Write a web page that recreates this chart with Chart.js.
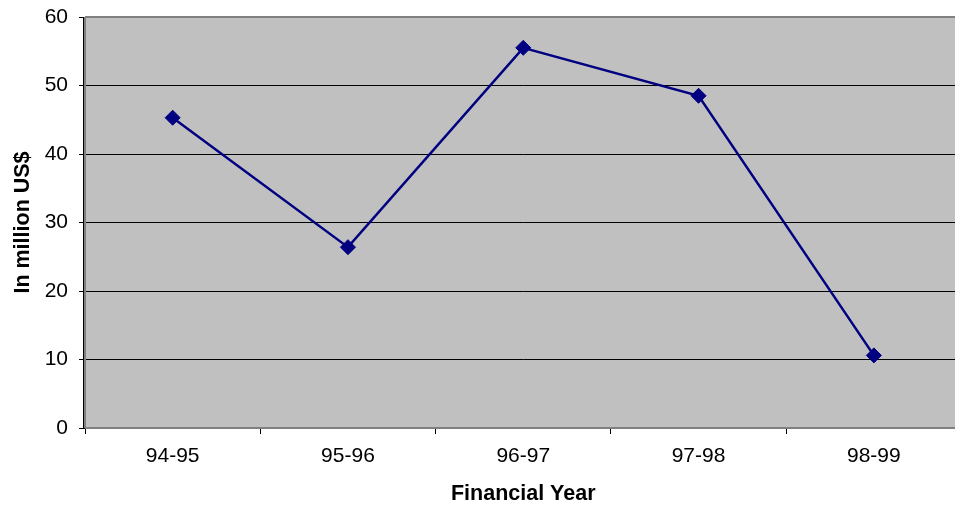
<!DOCTYPE html>
<html lang="en">
<head>
    <meta charset="UTF-8">
    <title>Financial Year Chart</title>
    <script src="https://cdn.jsdelivr.net/npm/chart.js"></script>
    <style>
        html, body { margin: 0; padding: 0; overflow: hidden; background: #fff; }
    </style>
</head>
<body>
    <canvas id="chart" width="970" height="505"></canvas>

    <script>
        // Chart data
        const years = ['94-95', '95-96', '96-97', '97-98', '98-99'];
        const values = [45.3, 26.4, 55.5, 48.5, 10.6];
        const yTicks = [0, 10, 20, 30, 40, 50, 60];

        // Gray plot area and its border, like the old spreadsheet look
        const plotArea = {
            id: 'plotArea',
            beforeDraw(chart) {
                const { ctx, chartArea: a } = chart;
                ctx.save();
                ctx.fillStyle = '#C0C0C0';
                ctx.fillRect(a.left, a.top, a.right - a.left, a.bottom - a.top);
                ctx.restore();
            },
            beforeDatasetsDraw(chart) {
                const { ctx, chartArea: a } = chart;
                ctx.save();
                ctx.strokeStyle = '#808080';
                ctx.lineWidth = 2;
                ctx.beginPath();
                ctx.moveTo(a.left, a.top);
                ctx.lineTo(a.right, a.top);
                ctx.lineTo(a.right, a.bottom);
                ctx.lineTo(a.left, a.bottom);
                ctx.stroke();
                ctx.strokeStyle = '#000';
                ctx.lineWidth = 1;
                ctx.beginPath();
                ctx.moveTo(a.left - 1.5, a.top);
                ctx.lineTo(a.left - 1.5, a.bottom + 1);
                ctx.stroke();
                ctx.strokeStyle = '#808080';
                ctx.lineWidth = 2;
                ctx.beginPath();
                ctx.moveTo(a.left, a.top);
                ctx.lineTo(a.left, a.bottom);
                ctx.stroke();
                ctx.restore();
            }
        };

        const tickFont = { family: 'Liberation Sans, Arial, sans-serif', size: 21 };
        const titleFont = { family: 'Liberation Sans, Arial, sans-serif', size: 21.5, weight: 'bold', lineHeight: 1 };

        new Chart(document.getElementById('chart'), {
            type: 'line',
            data: {
                labels: years,
                datasets: [{
                    data: values,
                    borderColor: '#000080',
                    backgroundColor: '#000080',
                    borderWidth: 2.5,
                    tension: 0,
                    pointStyle: 'rectRot',
                    pointRadius: 7.5,
                    pointBorderWidth: 1,
                    pointBorderColor: '#000080',
                    pointBackgroundColor: '#000080'
                }]
            },
            options: {
                responsive: false,
                animation: false,
                // plot runs a bit past the right edge of the window, as in the original
                layout: { padding: { top: 17, right: 0, left: 0, bottom: 0 } },
                plugins: {
                    legend: { display: false },
                    tooltip: { enabled: false }
                },
                scales: {
                    x: {
                        offset: true,
                        afterFit: s => {
                            s.height = 77;
                            s.paddingLeft = 0;
                            s.paddingRight = 0;
                        },
                        border: { display: false },
                        grid: {
                            offset: true,
                            drawOnChartArea: false,
                            tickLength: 6,
                            tickColor: '#000',
                            lineWidth: 1
                        },
                        ticks: { color: '#000', font: tickFont, padding: 10, maxRotation: 0 },
                        title: {
                            display: true,
                            text: 'Financial Year',
                            color: '#000',
                            font: titleFont,
                            padding: { top: 0, bottom: 0 }
                        }
                    },
                    y: {
                        min: 0,
                        max: 60,
                        afterFit: s => {
                            s.width = 85;
                            s.paddingTop = 0;
                            s.paddingBottom = 0;
                        },
                        afterBuildTicks: s => { s.ticks = yTicks.map(v => ({ value: v })); },
                        border: { display: false },
                        grid: {
                            color: '#000',
                            lineWidth: 1,
                            tickLength: 6,
                            tickColor: '#000'
                        },
                        ticks: { color: '#000', font: tickFont, padding: 11 },
                        title: {
                            display: true,
                            text: 'In million US$',
                            color: '#000',
                            font: titleFont,
                            padding: { top: 12, bottom: 0 }
                        }
                    }
                }
            },
            plugins: [plotArea]
        });
    </script>
</body>
</html>
